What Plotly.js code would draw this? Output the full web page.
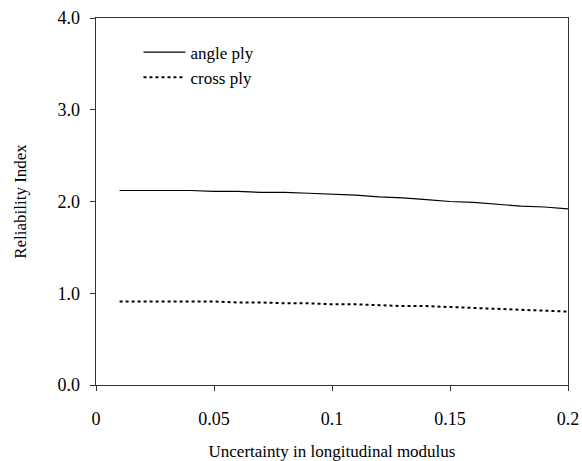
<!DOCTYPE html>
<html>
<head>
<meta charset="utf-8">
<script src="https://cdn.plot.ly/plotly-3.0.1.min.js"></script>
<style>html,body{margin:0;padding:0;background:#fff;}#chart{width:582px;height:461px;}</style>
</head>
<body>
<div id="chart"></div>
<script>
var uncertainty = [0.01,0.02,0.03,0.04,0.05,0.06,0.07,0.08,0.09,0.10,0.11,0.12,0.13,0.14,0.15,0.16,0.17,0.18,0.19,0.20];
var anglePly = [2.12,2.12,2.12,2.12,2.11,2.11,2.10,2.10,2.09,2.08,2.07,2.05,2.04,2.02,2.00,1.99,1.97,1.95,1.94,1.92];
var crossPly = [0.91,0.91,0.91,0.91,0.91,0.90,0.90,0.89,0.89,0.88,0.88,0.87,0.86,0.86,0.85,0.84,0.83,0.82,0.81,0.80];
var xTicks = [0,0.05,0.1,0.15,0.2];
var xTickText = ['0','0.05','0.1','0.15','0.2'];
var yTicks = [0,1,2,3,4];
var yTickText = ['0.0','1.0','2.0','3.0','4.0'];

var font = 'Liberation Serif, Times New Roman, serif';
var traces = [
  {x: uncertainty, y: anglePly, name: 'angle ply', mode: 'lines', type: 'scatter',
   line: {color: '#000', width: 1.2}},
  {x: uncertainty, y: crossPly, name: 'cross ply', mode: 'lines', type: 'scatter',
   line: {color: '#000', width: 2, dash: 'dot'}}
];
var axisCommon = {
  showgrid: false, zeroline: false, showline: true, linecolor: '#333', linewidth: 1.3,
  mirror: true, ticks: 'outside', ticklen: 5, tickwidth: 1, tickcolor: '#333',
  tickfont: {family: font, size: 18, color: '#000'}, fixedrange: true
};
var layout = {
  width: 582, height: 461,
  margin: {l: 96, r: 14, t: 18, b: 76},
  paper_bgcolor: '#fff', plot_bgcolor: '#fff',
  font: {family: font, size: 17, color: '#000'},
  showlegend: true,
  legend: {x: 0.09, y: 0.955, xanchor: 'left', yanchor: 'top', bgcolor: 'rgba(0,0,0,0)',
           font: {family: font, size: 17, color: '#000'}, itemwidth: 42, tracegroupgap: 0},
  xaxis: Object.assign({}, axisCommon, {
    range: [0, 0.2], tickmode: 'array', tickvals: xTicks, ticktext: xTickText,
    ticklabelstandoff: 12,
    title: {text: 'Uncertainty in longitudinal modulus', font: {family: font, size: 17}, standoff: 18}
  }),
  yaxis: Object.assign({}, axisCommon, {
    range: [0, 4], tickmode: 'array', tickvals: yTicks, ticktext: yTickText,
    ticklabelstandoff: 6,
    title: {text: 'Reliability Index', font: {family: font, size: 17}, standoff: 26}
  })
};
Plotly.newPlot('chart', traces, layout, {displayModeBar: false, staticPlot: true});
</script>
</body>
</html>
